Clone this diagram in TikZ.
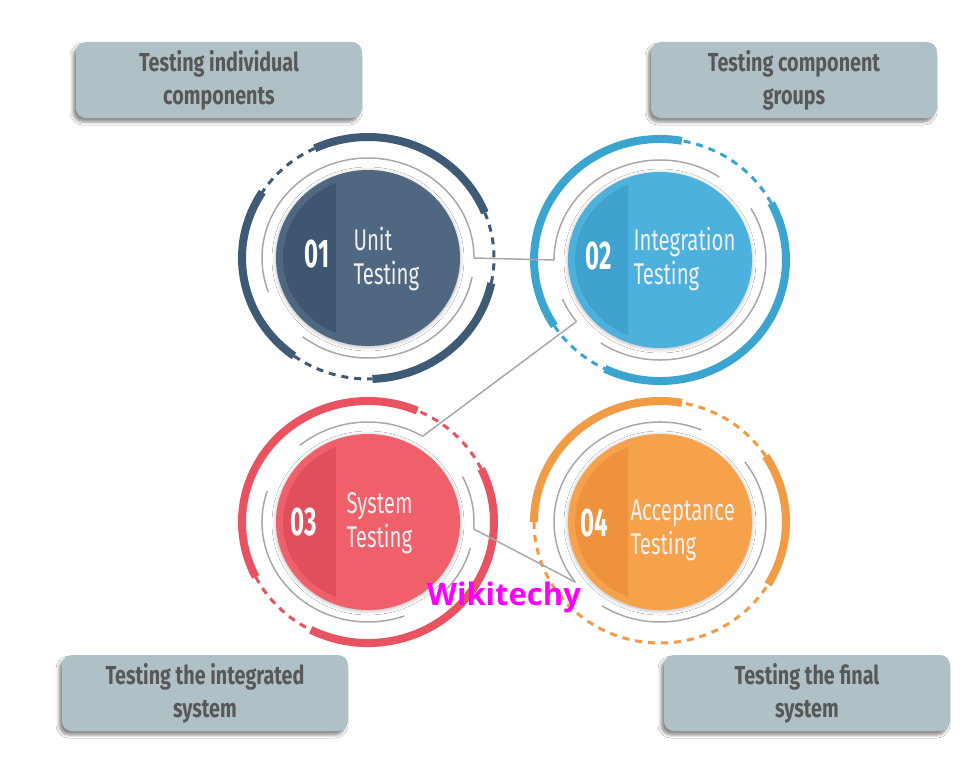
\documentclass[tikz,border=0pt]{standalone}
\usepackage{fontspec}
\newfontfamily\condfont[FakeStretch=0.68]{Fira Sans}
\newfontfamily\notefont[FakeStretch=0.76]{Fira Sans}
\newfontfamily\numfont[FakeStretch=0.6]{Fira Sans}
\newfontfamily\markfont{Open Sans}
\usepackage{xcolor}
\definecolor{unitbase}{HTML}{4F6780}
\definecolor{unitshade}{HTML}{3E566F}
\definecolor{unitring}{HTML}{3F5A75}
\definecolor{intbase}{HTML}{4DB1DD}
\definecolor{intshade}{HTML}{3FA2CE}
\definecolor{intring}{HTML}{3BA5D0}
\definecolor{sysbase}{HTML}{F0606B}
\definecolor{sysshade}{HTML}{E24F5C}
\definecolor{sysring}{HTML}{E9535F}
\definecolor{accbase}{HTML}{F6A24A}
\definecolor{accshade}{HTML}{EE923D}
\definecolor{accring}{HTML}{F29B45}
\definecolor{boxgray}{HTML}{AFC1C6}
\definecolor{notegray}{HTML}{585858}
\definecolor{linkgray}{HTML}{A8A8A8}
\definecolor{markpink}{RGB}{255,0,255}
\usepackage{tikz}
\usetikzlibrary{shapes.geometric, positioning, calc, shadows.blur}

\tikzset{
  disc/.style={ellipse, minimum width=184pt, minimum height=176pt, inner sep=0pt,
    blur shadow={shadow xshift=0pt, shadow yshift=-1pt, shadow blur radius=4pt, shadow opacity=30}},
  numtext/.style={text=white, font=\numfont\bfseries\fontsize{40}{40}\selectfont},
  steptext/.style={text=white!94!black, anchor=west, align=left,
    font=\condfont\fontsize{30}{34}\selectfont},
  notebox/.style={fill=boxgray, rounded corners=10pt, minimum width=286pt, minimum height=76pt,
    align=center, text=notegray, font=\notefont\bfseries\fontsize{26}{33}\selectfont,
    blur shadow={shadow xshift=-3pt, shadow yshift=-4pt, shadow blur radius=3pt, shadow opacity=45}},
  link/.style={draw=linkgray, line width=1.5pt},
}

% ring pieces: colour, centre node, start angle, end angle
\newcommand\ringthick[4]{\draw[line width=8pt,#1] (#2.center) ++(#3:126 and 121)
  arc[start angle=#3, end angle=#4, x radius=126, y radius=121];}
\newcommand\ringdash[4]{\draw[line width=3pt,dash pattern=on 7pt off 6pt,#1] (#2.center) ++(#3:126 and 121)
  arc[start angle=#3, end angle=#4, x radius=126, y radius=121];}
\newcommand\ringthin[3]{\draw[link] (#1.center) ++(#2:106 and 100)
  arc[start angle=#2, end angle=#3, x radius=106, y radius=100];}

\begin{document}
\begin{tikzpicture}[x=1pt, y=1pt]
  \useasboundingbox[fill=white] (0,0) rectangle (973,-765);

  % the four discs
  \foreach \i/\x/\y/\base/\shade in {1/368/-258/unitbase/unitshade, 2/660/-260/intbase/intshade,
      3/368/-522/sysbase/sysshade, 4/660/-522/accbase/accshade} {
    \node[disc, fill=\base] (c\i) at (\x,\y) {};
    \begin{scope}
      \clip (\x-300,\y-200) rectangle (\x-32,\y+200);
      \fill[\shade] (c\i.center) ellipse[x radius=85, y radius=81];
    \end{scope}
  }

  % outer rings
  \ringthick{unitring}{c1}{22}{115}
  \ringthick{unitring}{c1}{147}{234}
  \ringthick{unitring}{c1}{272}{348}
  \ringdash{unitring}{c1}{115}{147}
  \ringdash{unitring}{c1}{234}{272}
  \ringdash{unitring}{c1}{348}{382}

  \ringthick{intring}{c2}{80}{213}
  \ringthick{intring}{c2}{244}{388}
  \ringdash{intring}{c2}{28}{80}
  \ringdash{intring}{c2}{213}{244}

  \ringthick{sysring}{c3}{67}{207}
  \ringthick{sysring}{c3}{243}{386}
  \ringdash{sysring}{c3}{26}{67}
  \ringdash{sysring}{c3}{207}{243}

  \ringthick{accring}{c4}{80}{180}
  \ringthick{accring}{c4}{329}{393}
  \ringdash{accring}{c4}{33}{80}
  \ringdash{accring}{c4}{180}{329}

  % thin inner rings
  \ringthin{c1}{0}{200}
  \ringthin{c1}{232}{349}
  \ringthin{c2}{56}{180}
  \ringthin{c2}{203}{218}
  \ringthin{c2}{236}{391}
  \ringthin{c3}{59}{130}
  \ringthin{c3}{162}{290}
  \ringthin{c3}{315}{345}
  \ringthin{c3}{356}{387}
  \ringthin{c4}{67}{217}
  \ringthin{c4}{237}{397}

  % links between the rings
  \coordinate (c1e) at ($(c1.center)+(0:106 and 100)$);
  \coordinate (c2w) at ($(c2.center)+(180:106 and 100)$);
  \coordinate (c2s) at ($(c2.center)+(218:106 and 100)$);
  \coordinate (c3n) at ($(c3.center)+(59:106 and 100)$);
  \coordinate (c3e) at ($(c3.center)+(356:106 and 100)$);
  \coordinate (c4w) at ($(c4.center)+(217:106 and 100)$);
  \draw[link] (c1e) -- (c2w);
  \draw[link] (c2s) -- (c3n);
  \draw[link] (c3e) -- (c4w);

  % disc texts
  \node[numtext] (n1) at (317,-254) {01};
  \node[steptext] (t1) at (350,-259) {Unit\\Testing};
  \node[numtext] (n2) at (599,-256) {02};
  \node[steptext] (t2) at (630,-259) {Integration\\Testing};
  \node[numtext] (n3) at (304,-522) {03};
  \node[steptext] (t3) at (343,-523) {System\\Testing};
  \node[numtext] (n4) at (594,-523) {04};
  \node[steptext] (t4) at (627,-530) {Acceptance\\Testing};

  % notes
  \node[notebox] (b1) at (219,-80) {Testing individual\\components};
  \node[notebox] (b2) at (794,-80) {Testing component\\groups};
  \node[notebox] (b3) at (205,-693) {Testing the integrated\\system};
  \node[notebox] (b4) at (807,-693) {Testing the final\\system};

  \node[text=markpink, font=\markfont\bfseries\fontsize{31}{31}\selectfont] (mark) at (504,-597) {Wikitechy};
\end{tikzpicture}
\end{document}
